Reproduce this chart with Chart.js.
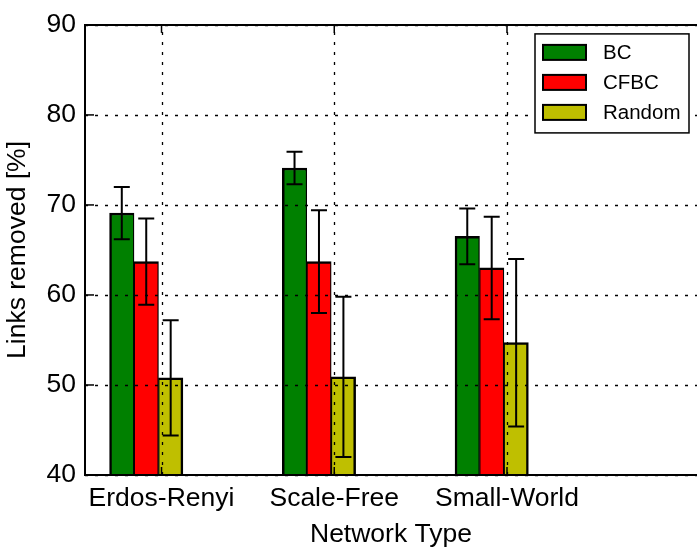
<!DOCTYPE html>
<html><head><meta charset="utf-8">
<script src="https://cdn.jsdelivr.net/npm/chart.js@4"></script>
<style>html,body{margin:0;padding:0;background:#fff;overflow:hidden}canvas{display:block}</style>
</head><body>
<canvas id="c" width="697" height="551"></canvas>
<script>
const categories = ['Erdos-Renyi', 'Scale-Free', 'Small-World'];
const seriesNames = ['BC', 'CFBC', 'Random'];
const bcValues = [69.1, 74.1, 66.5];
const bcErrors = [2.9, 1.8, 3.1];
const cfbcValues = [63.7, 63.7, 63.0];
const cfbcErrors = [4.8, 5.7, 5.7];
const randomValues = [50.8, 50.9, 54.7];
const randomErrors = [6.4, 8.9, 9.3];
const yTicks = [40, 50, 60, 70, 80, 90];

const FONT = "'Liberation Sans', Arial, Helvetica, sans-serif";
const colors = ['#008000', '#ff0000', '#bfbf00'];
const offsets = [-0.23, -0.0885, 0.053];
const values = [bcValues, cfbcValues, randomValues];
const errors = [bcErrors, cfbcErrors, randomErrors];
const borders = [
  {top: 2.5, bottom: 2, left: 2.5, right: 1.3},
  {top: 2.5, bottom: 2, left: 1.3, right: 1.3},
  {top: 2.5, bottom: 2, left: 1.3, right: 2.5}
];

const datasets = values.map((vals, s) => ({
  label: seriesNames[s],
  data: vals.map((v, i) => ({x: i + offsets[s], y: v})),
  errors: errors[s],
  backgroundColor: colors[s],
  borderColor: '#000',
  borderWidth: borders[s],
  borderSkipped: false,
  grouped: false,
  categoryPercentage: 1,
  barPercentage: 1
}));

const gridPlugin = {
  id: 'gridPlugin',
  afterDatasetsDraw(chart) {
    const ctx = chart.ctx, a = chart.chartArea, xs = chart.scales.x, ys = chart.scales.y;
    ctx.save();
    ctx.strokeStyle = '#000';
    ctx.lineWidth = 1.3;
    ctx.setLineDash([3, 7]);
    ys.ticks.forEach(t => {
      const y = Math.round(ys.getPixelForValue(t.value)) + 0.5;
      ctx.beginPath(); ctx.moveTo(a.left, y); ctx.lineTo(a.right, y); ctx.stroke();
    });
    xs.ticks.forEach(t => {
      const x = Math.round(xs.getPixelForValue(t.value)) + 0.5;
      ctx.beginPath(); ctx.moveTo(x, a.bottom); ctx.lineTo(x, a.top); ctx.stroke();
    });
    ctx.restore();
  }
};

const errorBars = {
  id: 'errorBars',
  afterDatasetsDraw(chart) {
    const ctx = chart.ctx, ys = chart.scales.y;
    ctx.save();
    ctx.strokeStyle = '#000';
    ctx.lineWidth = 2;
    chart.data.datasets.forEach((ds, di) => {
      const meta = chart.getDatasetMeta(di);
      meta.data.forEach((bar, i) => {
        const v = ds.data[i].y, e = ds.errors[i];
        const x = bar.x;
        const yt = ys.getPixelForValue(v + e), yb = ys.getPixelForValue(v - e);
        ctx.beginPath();
        ctx.moveTo(x, yt); ctx.lineTo(x, yb);
        ctx.moveTo(x - 8, yt); ctx.lineTo(x + 8, yt);
        ctx.moveTo(x - 8, yb); ctx.lineTo(x + 8, yb);
        ctx.stroke();
      });
    });
    ctx.restore();
  }
};

const framePlugin = {
  id: 'framePlugin',
  afterDatasetsDraw(chart) {
    const ctx = chart.ctx, a = chart.chartArea, xs = chart.scales.x, ys = chart.scales.y;
    ctx.save();
    ctx.strokeStyle = '#000';
    ctx.lineWidth = 1.5;
    ys.ticks.forEach(t => {
      const y = ys.getPixelForValue(t.value);
      ctx.beginPath(); ctx.moveTo(a.left, y); ctx.lineTo(a.left + 9, y); ctx.stroke();
    });
    xs.ticks.forEach(t => {
      const x = xs.getPixelForValue(t.value);
      ctx.beginPath(); ctx.moveTo(x, a.bottom); ctx.lineTo(x, a.bottom - 8); ctx.stroke();
      ctx.beginPath(); ctx.moveTo(x, a.top); ctx.lineTo(x, a.top + 8); ctx.stroke();
    });
    ctx.lineWidth = 2;
    ctx.beginPath();
    ctx.moveTo(a.right + 2, a.top); ctx.lineTo(a.left, a.top); ctx.lineTo(a.left, a.bottom); ctx.lineTo(a.right + 2, a.bottom);
    ctx.stroke();
    ctx.restore();
  }
};

const legendPlugin = {
  id: 'legendPlugin',
  afterDraw(chart) {
    const ctx = chart.ctx, a = chart.chartArea;
    const right = a.right - 8, left = right - 154, top = a.top + 9, h = 99;
    ctx.save();
    ctx.fillStyle = '#fff';
    ctx.fillRect(left, top, right - left, h);
    ctx.strokeStyle = '#000';
    ctx.lineWidth = 1.5;
    ctx.strokeRect(left, top, right - left, h);
    chart.data.datasets.forEach((ds, s) => {
      const cy = top + 18.5 + 30 * s;
      ctx.fillStyle = ds.backgroundColor;
      ctx.fillRect(left + 8, cy - 7.5, 43, 15);
      ctx.lineWidth = 2;
      ctx.strokeRect(left + 8, cy - 7.5, 43, 15);
      ctx.fillStyle = '#000';
      ctx.font = '20.5px ' + FONT;
      ctx.textBaseline = 'middle';
      ctx.textAlign = 'left';
      ctx.fillText(ds.label, left + 68, cy + 1);
    });
    ctx.restore();
  }
};

new Chart(document.getElementById('c'), {
  type: 'bar',
  data: {datasets},
  plugins: [gridPlugin, errorBars, framePlugin, legendPlugin],
  options: {
    responsive: false,
    animation: false,
    devicePixelRatio: 1,
    layout: {padding: {top: 22, right: 0, left: 0, bottom: 0}},
    plugins: {legend: {display: false}, tooltip: {enabled: false}},
    scales: {
      x: {
        type: 'linear',
        offset: false,
        min: -0.443,
        max: 3.10,
        grid: {display: false, drawTicks: false, offset: false},
        border: {display: false},
        afterBuildTicks: s => { s.ticks = categories.map((c, i) => ({value: i})); },
        afterFit: s => { s.height = 76; },
        ticks: {
          autoSkip: false, maxRotation: 0, padding: 8, color: '#000',
          font: {family: FONT, size: 26.5},
          callback: v => categories[v] ?? ''
        },
        title: {display: true, text: 'Network Type', color: '#000', font: {family: FONT, size: 26.5}, padding: {top: 0, bottom: 0}}
      },
      y: {
        min: 40, max: 90,
        grid: {display: false, drawTicks: false},
        border: {display: false},
        afterBuildTicks: s => { s.ticks = yTicks.map(v => ({value: v})); },
        afterFit: s => { s.width = 85; },
        ticks: {padding: 9, color: '#000', font: {family: FONT, size: 26.5}},
        title: {display: true, text: 'Links removed [%]', color: '#000', font: {family: FONT, size: 26.5}, padding: {top: 2, bottom: 0}}
      }
    }
  }
});
</script>
</body></html>
